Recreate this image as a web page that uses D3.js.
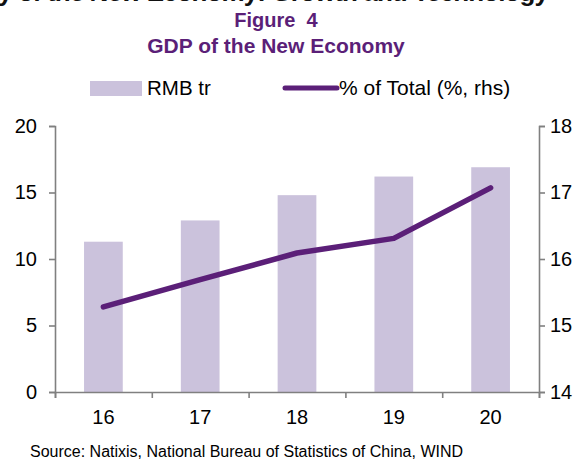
<!DOCTYPE html>
<html>
<head>
<meta charset="utf-8">
<script src="https://cdn.jsdelivr.net/npm/d3@7"></script>
<style>
  body { margin: 0; background: #fff; }
  text { font-family: "Liberation Sans", Arial, sans-serif; }
</style>
</head>
<body>
<div id="chart"></div>
<script>
const years = ['16', '17', '18', '19', '20'];
const gdpNew = [11.3, 12.9, 14.8, 16.2, 16.9];     // RMB tr, bars
const shareTotal = [15.28, 15.69, 16.09, 16.31, 17.07]; // % of total, rhs
const leftTicks = [0, 5, 10, 15, 20];
const rightTicks = [14, 15, 16, 17, 18];

const width = 584, height = 461;
const purple = '#5b1f78';
const lavender = '#cbc2dc';
const axisGrey = '#808080';

const svg = d3.select('#chart').append('svg')
    .attr('width', width)
    .attr('height', height);

// cut-off page heading at the very top
svg.append('text')
    .attr('x', -2).attr('y', 1)
    .attr('textLength', 551)
    .attr('lengthAdjust', 'spacing')
    .attr('font-size', 26).attr('font-weight', 'bold')
    .attr('fill', '#111')
    .text('y of the New Economy: Growth and Technology');

svg.append('text')
    .attr('x', 276).attr('y', 27)
    .attr('text-anchor', 'middle')
    .attr('font-size', 20).attr('font-weight', 'bold')
    .attr('fill', purple)
    .style('white-space', 'pre')
    .text('Figure  4');

svg.append('text')
    .attr('x', 276).attr('y', 53)
    .attr('text-anchor', 'middle')
    .attr('font-size', 21).attr('font-weight', 'bold')
    .attr('fill', purple)
    .text('GDP of the New Economy');

// legend
const leg = svg.append('g');
leg.append('rect')
    .attr('x', 90).attr('y', 81).attr('width', 52).attr('height', 15)
    .attr('fill', lavender);
leg.append('text')
    .attr('x', 147).attr('y', 95)
    .attr('font-size', 20.5)
    .text('RMB tr');
leg.append('line')
    .attr('x1', 285).attr('x2', 337).attr('y1', 88).attr('y2', 88)
    .attr('stroke', purple).attr('stroke-width', 5)
    .attr('stroke-linecap', 'round');
leg.append('text')
    .attr('x', 339).attr('y', 95)
    .attr('font-size', 21)
    .text('% of Total (%, rhs)');

const x0 = 55, x1 = 539, yTop = 126, yBot = 392;

const x = d3.scaleBand().domain(years).range([x0, x1]).paddingInner(0.6).paddingOuter(0.3);
const xPoint = d3.scalePoint().domain(years).range([x0, x1]).padding(0.5);
const yL = d3.scaleLinear().domain([0, 20]).range([yBot, yTop]);
const yR = d3.scaleLinear().domain([14, 18]).range([yBot, yTop]);

// bars
svg.append('g').selectAll('rect')
    .data(years)
    .join('rect')
    .attr('x', d => x(d))
    .attr('width', x.bandwidth())
    .attr('y', (d, i) => yL(gdpNew[i]))
    .attr('height', (d, i) => yBot - yL(gdpNew[i]))
    .attr('fill', lavender);

// axes
function styleAxis(g) {
    g.select('.domain').attr('stroke', axisGrey).attr('stroke-width', 1.6);
    g.selectAll('.tick line').attr('stroke', axisGrey).attr('stroke-width', 1.6);
    g.selectAll('.tick text')
        .attr('font-family', '"Liberation Sans", Arial, sans-serif')
        .attr('font-size', 20).attr('fill', '#000');
}

svg.append('g')
    .attr('transform', `translate(${x0},0)`)
    .call(d3.axisLeft(yL).tickValues(leftTicks).tickFormat(d3.format('d'))
        .tickSize(6).tickSizeOuter(6).tickPadding(12))
    .call(styleAxis);

svg.append('g')
    .attr('transform', `translate(${x1},0)`)
    .call(d3.axisRight(yR).tickValues(rightTicks).tickFormat(d3.format('d'))
        .tickSize(6).tickSizeOuter(6).tickPadding(5))
    .call(styleAxis);

// x axis: ticks between categories
const xAxisScale = d3.scaleLinear().domain([0, years.length]).range([x0, x1]);
svg.append('g')
    .attr('transform', `translate(0,${yBot})`)
    .call(d3.axisBottom(xAxisScale).ticks(years.length).tickFormat('').tickSize(6).tickSizeOuter(6))
    .call(styleAxis);

svg.append('g').selectAll('text.xl')
    .data(years)
    .join('text')
    .attr('class', 'xl')
    .attr('x', d => xPoint(d))
    .attr('y', yBot + 32)
    .attr('text-anchor', 'middle')
    .attr('font-size', 20)
    .text(d => d);

// line
const line = d3.line()
    .x((d, i) => xPoint(years[i]))
    .y(d => yR(d));

svg.append('path')
    .datum(shareTotal)
    .attr('d', line)
    .attr('fill', 'none')
    .attr('stroke', purple)
    .attr('stroke-width', 5.5)
    .attr('stroke-linecap', 'round')
    .attr('stroke-linejoin', 'round');

svg.append('text')
    .attr('x', 30).attr('y', 457)
    .attr('font-size', 16)
    .text('Source: Natixis, National Bureau of Statistics of China, WIND');
</script>
</body>
</html>
